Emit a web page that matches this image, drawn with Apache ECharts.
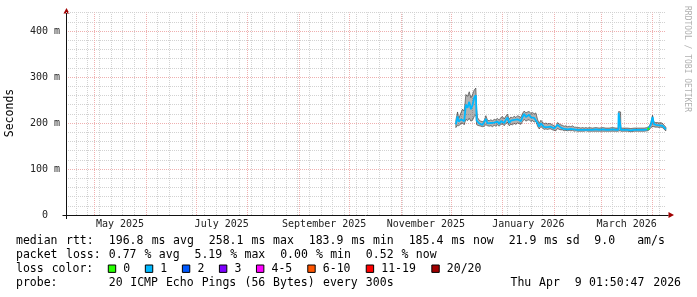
<!DOCTYPE html>
<html><head><meta charset="utf-8">
<script src="https://cdn.jsdelivr.net/npm/echarts@6/dist/echarts.min.js"></script>
<style>html,body{margin:0;padding:0;background:#fff}#c{width:697px;height:297px}</style>
</head><body><div id="c"></div>
<script>
// ---------- data ----------
const times = [
'2025-12-04T00','2025-12-05T00','2025-12-05T18','2025-12-07T00','2025-12-08T00','2025-12-09T00',
'2025-12-10T00','2025-12-11T00','2025-12-12T00','2025-12-13T00','2025-12-14T00','2025-12-15T00',
'2025-12-16T00','2025-12-16T12','2025-12-17T00','2025-12-18T00','2025-12-19T00','2025-12-20T00',
'2025-12-21T00','2025-12-22T00','2025-12-23T00','2025-12-24T00','2025-12-25T00','2025-12-26T00',
'2025-12-27T00','2025-12-28T00','2025-12-29T00','2025-12-30T00','2025-12-31T00','2026-01-01T00',
'2026-01-02T00','2026-01-03T00','2026-01-04T00','2026-01-05T00','2026-01-06T00','2026-01-07T00',
'2026-01-08T00','2026-01-09T00','2026-01-10T00','2026-01-11T00','2026-01-12T00','2026-01-13T00',
'2026-01-14T00','2026-01-15T00','2026-01-16T00','2026-01-17T00','2026-01-18T00','2026-01-19T00',
'2026-01-20T00','2026-01-21T00','2026-01-22T00','2026-01-23T00','2026-01-24T00','2026-01-25T00',
'2026-01-26T00','2026-01-27T00','2026-01-28T00','2026-01-29T00','2026-01-30T00','2026-01-31T00',
'2026-02-01T00','2026-02-02T00','2026-02-03T00','2026-02-04T00','2026-02-05T00','2026-02-06T00',
'2026-02-07T00','2026-02-08T00','2026-02-09T00','2026-02-10T00','2026-02-11T00','2026-02-12T00',
'2026-02-13T00','2026-02-14T00','2026-02-15T00','2026-02-16T00','2026-02-17T00','2026-02-18T00',
'2026-02-19T00','2026-02-20T00','2026-02-21T00','2026-02-22T00','2026-02-24T00','2026-02-26T00',
'2026-02-28T00','2026-03-02T00','2026-03-04T00','2026-03-06T00','2026-03-08T00','2026-03-10T00',
'2026-03-11T12','2026-03-11T16','2026-03-12T20','2026-03-13T00','2026-03-15T00','2026-03-17T00',
'2026-03-19T00','2026-03-21T00','2026-03-23T00','2026-03-25T00','2026-03-27T00','2026-03-29T00',
'2026-03-30T00','2026-03-31T00','2026-04-01T00','2026-04-01T18','2026-04-02T12','2026-04-03T00',
'2026-04-04T00','2026-04-05T00','2026-04-06T00','2026-04-07T00','2026-04-08T00','2026-04-09T00'
];
const medianRtt = [
197,214,203,208,212,204,
240,233,246,230,239,255,
260,205,202,199,198,196,
198,209,199,198,200,197,
201,199,203,198,204,206,
200,207,212,200,205,203,
207,204,208,206,204,213,
220,213,216,218,212,215,
211,214,200,192,199,195,
191,193,191,193,192,190,
188,186,196,192,190,189,
187,189,186,188,187,189,
186,187,185,186,185,186,
185,186,185,186,185,186,
185,186,185,185,186,185,
185,222,221,185,185,185,
184,185,185,185,185,186,
189,196,213,198,196,196,
196,195,196,194,190,186
];
const smokeLow = [
190,195,194,198,200,196,
208,205,210,204,206,214,
218,196,195,194,193,192,
193,196,194,193,194,192,
195,193,196,193,197,198,
194,199,201,194,197,196,
199,197,200,199,197,203,
208,204,206,207,203,205,
202,204,193,187,192,189,
186,187,186,187,187,185,
184,183,188,186,185,185,
183,184,183,184,183,184,
182,183,182,182,182,182,
182,183,182,182,182,182,
182,182,182,182,182,182,
182,183,183,182,182,182,
181,182,182,182,182,183,
185,190,192,192,191,191,
191,190,191,190,186,183
];
const smokeHigh = [
206,224,210,222,230,226,
262,258,268,255,262,272,
276,230,212,206,204,203,
205,216,206,205,207,205,
208,207,210,206,212,214,
209,215,219,208,213,211,
215,212,216,214,212,221,
226,222,224,225,221,223,
220,222,208,199,206,202,
198,200,198,199,198,196,
194,192,201,198,196,195,
193,194,192,193,192,194,
191,191,190,190,189,190,
189,190,189,190,189,190,
189,190,189,189,190,189,
189,225,224,189,189,189,
188,189,189,189,189,190,
193,201,217,203,201,201,
201,200,201,199,195,191
];
// loss bucket index per point (0 = "0", 1 = "1", ...)
const lossBucket = [
1,1,1,1,1,1, 1,1,1,1,1,1, 1,1,1,1,1,1, 1,1,1,1,1,1, 1,1,1,1,1,1,
1,1,1,1,1,1, 1,1,1,1,1,1, 1,1,1,1,1,1, 1,1,1,1,1,1, 1,1,1,1,1,1,
1,1,1,1,1,1, 1,1,1,1,1,1, 1,1,1,1,1,1, 1,1,1,1,1,1, 1,1,1,1,1,1,
1,1,1,1,1,1, 1,1,1,1,1,0, 0,1,1,1,1,1, 1,1,1,1,1,1
];
const lossLabels = ['0','1','2','3','4-5','6-10','11-19','20/20'];
const lossColors = ['#26ff00','#00b8ff','#0059ff','#7e00ff','#ff00ff','#ff5500','#ff0000','#a10000'];
const xTickMonths = ['2025-05','2025-07','2025-09','2025-11','2026-01','2026-03'];
const xTickLabels = ['May 2025','July 2025','September 2025','November 2025','January 2026','March 2026'];
const yTickValues = [0,100,200,300,400];
const statsLines = [
  'median rtt:  196.8 ms avg  258.1 ms max  183.9 ms min  185.4 ms now  21.9 ms sd  9.0   am/s',
  'packet loss: 0.77 % avg  5.19 % max  0.00 % min  0.52 % now',
  'loss color:',
  'probe:       20 ICMP Echo Pings (56 Bytes) every 300s'
];
const stampText = 'Thu Apr  9 01:50:47 2026';
const yTitle = 'Seconds';
const credit = 'RRDTOOL / TOBI OETIKER';

// ---------- build ----------
const ts = s => Date.parse(s + ':00:00Z');
const END = Date.UTC(2026,3,9,1,50,47);
const START = END - 360*86400000;
const T = times.map(ts);

const medData = T.map((t,i)=>[t, medianRtt[i]]);
const smokeData = T.map((t,i)=>[t, smokeLow[i], smokeHigh[i]]);
const greenData = T.map((t,i)=> lossBucket[i]===0 ? [t, medianRtt[i]] : [t, null]);

const minorStyle = {color:'#d2d2d2', type:[1,1], width:1};
const majorStyle = {color:'#efb0b0', type:[1,1], width:1};
const gridLines = [];
for (let t = Date.UTC(2025,3,20); t <= END; t += 7*86400000) gridLines.push({xAxis:t, lineStyle:minorStyle});
for (let v = 20; v <= 440; v += 20) if (v % 100) gridLines.push({yAxis:v, lineStyle:minorStyle});
for (let y=2025, m=4; ; m++) { if (m>11){m=0;y++;} const t=Date.UTC(y,m,1); if (t>END) break; gridLines.push({xAxis:t, lineStyle:majorStyle}); }
yTickValues.forEach(v=>{ if (v>0) gridLines.push({yAxis:v, lineStyle:majorStyle}); });

const labelPos = xTickMonths.map(s=>{ const [y,m]=s.split('-').map(Number); return (Date.UTC(y,m-1,1)+Date.UTC(y,m,1))/2; });
function xLabel(v){ let best=-1, bd=Infinity; labelPos.forEach((p,i)=>{const d=Math.abs(p-v); if(d<bd){bd=d;best=i;}}); return bd < 86400000 ? xTickLabels[best] : ''; }

const MONO = 'DejaVu Sans Mono';
const CW = 7.14, X0 = 16, FS = 11.5;
const graphic = [];
function addLine(str, x0, y){
  const re = /\S+/g; let m;
  while ((m = re.exec(str))) {
    graphic.push({type:'text', x: x0 + m.index*CW, y, silent:true,
      style:{text:m[0], font: FS+'px "'+MONO+'"', fill:'#000', align:'left', verticalAlign:'middle', textAlign:'left', textVerticalAlign:'middle'}});
  }
}
const lineY = [241.3, 255.3, 269.3, 283.5];
statsLines.forEach((s,i)=>addLine(s, X0, lineY[i]));
addLine(stampText, 510.5, lineY[3]);
let bx = 108.3;
lossLabels.forEach((lab,i)=>{
  graphic.push({type:'rect', silent:true, shape:{x:bx, y:lineY[2]-4.3, width:7.4, height:7.4},
    style:{fill:lossColors[i], stroke:'#000', lineWidth:1}});
  graphic.push({type:'text', x: bx+15, y: lineY[2], silent:true,
    style:{text:lab, font: FS+'px "'+MONO+'"', fill:'#000', align:'left', verticalAlign:'middle', textAlign:'left', textVerticalAlign:'middle'}});
  bx += 29.9 + lab.length*CW;
});
graphic.push({type:'text', x:10, y:113, rotation:Math.PI/2, silent:true,
  style:{text:yTitle, font:'11.5px "'+MONO+'"', fill:'#000', align:'center', verticalAlign:'middle', textAlign:'center', textVerticalAlign:'middle'}});
graphic.push({type:'text', x:687, y:59, rotation:-Math.PI/2, silent:true,
  style:{text:credit, font:'8px "'+MONO+'"', fill:'#b0b0b0', align:'center', verticalAlign:'middle', textAlign:'center', textVerticalAlign:'middle'}});
graphic.push({type:'polygon', silent:true, shape:{points:[[668.5,212],[674,215],[668.5,218]]}, style:{fill:'#a00000'}});
graphic.push({type:'polygon', silent:true, shape:{points:[[63.5,13.5],[66.5,8],[69.5,13.5]]}, style:{fill:'#a00000'}});
graphic.push({type:'line', silent:true, shape:{x1:62.5,y1:215.5,x2:668.5,y2:215.5}, style:{stroke:'#111', lineWidth:1}, z:10});
graphic.push({type:'line', silent:true, shape:{x1:66.5,y1:219,x2:66.5,y2:13}, style:{stroke:'#111', lineWidth:1}, z:10});

function renderSmoke(params, api){
  if (params.dataIndex !== 0) return null;
  const top = [], bot = [];
  for (let i = 0; i < smokeData.length; i++) {
    top.push(api.coord([smokeData[i][0], smokeData[i][2]]));
    bot.push(api.coord([smokeData[i][0], smokeData[i][1]]));
  }
  return {type:'polygon', silent:true, shape:{points: top.concat(bot.reverse())},
    style:{fill:'rgba(0,0,0,0.3)', stroke:'rgba(0,0,0,0.75)', lineWidth:0.6}};
}

const chart = echarts.init(document.getElementById('c'), null, {renderer:'canvas'});
chart.setOption({
  animation:false,
  backgroundColor:'#ffffff',
  grid:{left:66, top:12.6, width:600, height:202.4, containLabel:false},
  xAxis:{type:'value', min:START, max:END, scale:true,
    axisLine:{show:false}, axisTick:{show:false}, splitLine:{show:false}, minorSplitLine:{show:false},
    axisLabel:{customValues:labelPos, formatter:xLabel, fontFamily:MONO, fontSize:10, color:'#222', margin:4, hideOverlap:false, showMinLabel:true, showMaxLabel:true}},
  yAxis:{type:'value', min:0, max:440, interval:100,
    axisLine:{show:false}, axisTick:{show:false}, splitLine:{show:false},
    axisLabel:{formatter:v=> v===0 ? '0  ' : (v>400 ? '' : v+' m'), fontFamily:MONO, fontSize:10, color:'#222', margin:6}},
  graphic: graphic,
  series:[
    {type:'line', data:[], silent:true, z:1,
      markLine:{silent:true, symbol:['none','none'], label:{show:false}, animation:false, z:1, data:gridLines}},
    {type:'custom', name:'smoke', data:smokeData, renderItem:renderSmoke, encode:{x:0, y:[1,2]}, silent:true, z:3},
    {type:'line', name:'median', data:medData, symbol:'none', lineStyle:{color:lossColors[1], width:1.8}, silent:true, z:4},
    {type:'line', name:'median0', data:greenData, symbol:'none', connectNulls:false, lineStyle:{color:lossColors[0], width:1.8}, silent:true, z:5}
  ]
});
</script>
</body></html>
